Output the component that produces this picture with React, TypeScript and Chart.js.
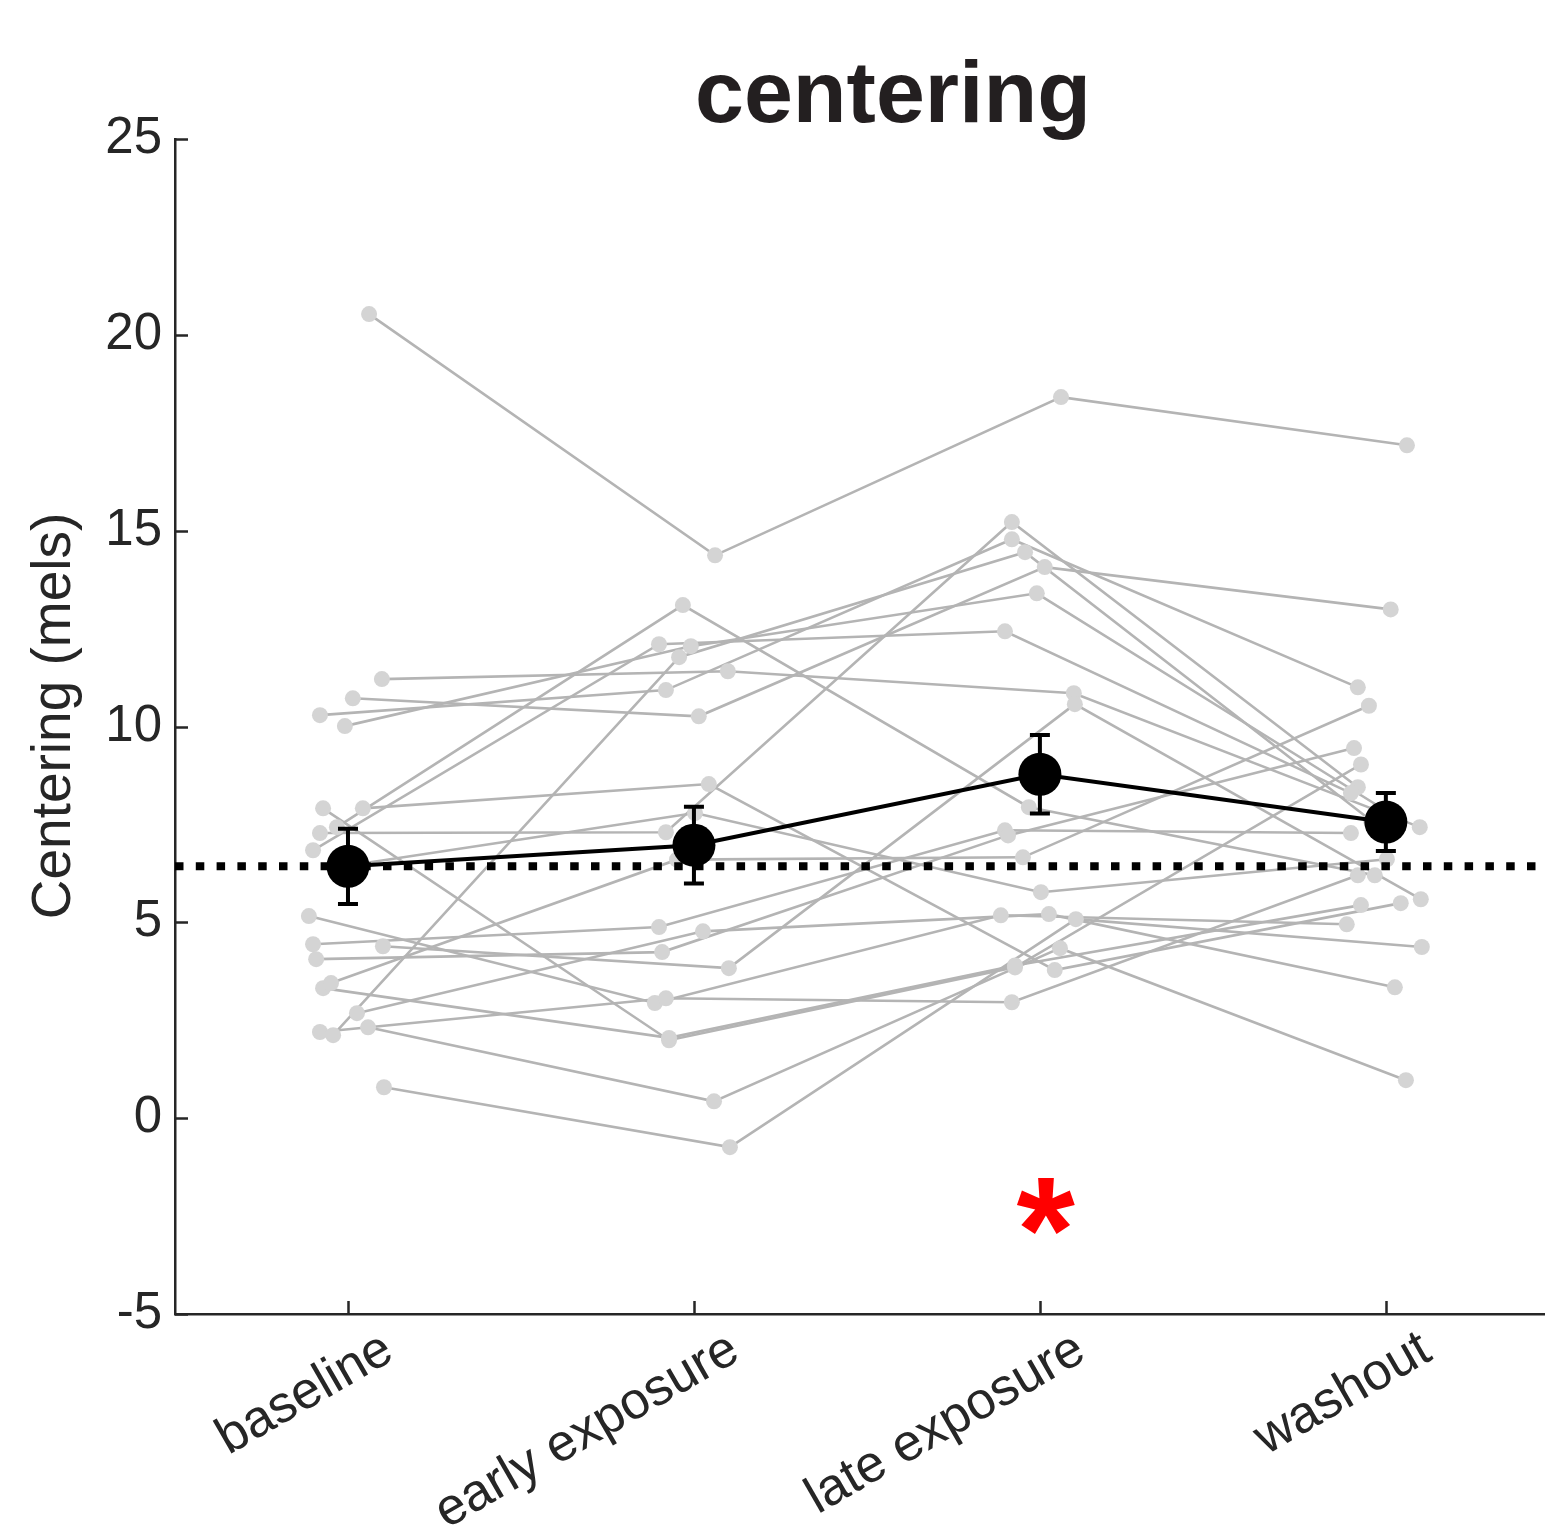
import React, { useEffect, useRef } from "react";
import { Chart, registerables } from "chart.js";

Chart.register(...registerables);

const conditions = ["baseline", "early exposure", "late exposure", "washout"];

// one value per subject (22 subjects), same subject order in every array
const baselineValues = [20.53, 11.21, 10.72, 10.29, 10.01, 7.91, 7.91, 7.43, 7.28, 6.84, 5.16, 4.44, 4.39, 4.06, 3.32, 3.45, 2.68, 2.2, 2.12, 2.32, 0.79, 6.45];
const earlyValues = [14.37, 11.41, 10.26, 10.93, 12.05, 8.53, 1.99, 13.1, 7.3, 12.1, 2.94, 4.88, 3.83, 4.24, 2.05, 6.6, 4.77, 3.06, 11.77, 0.43, -0.74, 7.79];
const lateValues = [18.41, 10.85, 14.07, 14.78, 13.4, 3.78, 3.85, 7.94, 15.22, 12.43, 5.18, 7.35, 10.57, 7.22, 3.9, 6.66, 5.21, 2.96, 14.45, 4.34, 5.08, 5.77];
const washoutValues = [17.18, 7.43, 12.99, 11.0, 7.9, 5.49, 9.03, 6.2, 8.45, 8.3, 4.95, 7.28, 5.59, 9.45, 5.44, 10.53, 3.34, 6.2, 7.6, 0.97, 4.37, 6.61];
// horizontal jitter of each subject (in category units)
const subjectJitter = [0.061, 0.098, 0.014, -0.081, -0.009, 0.043, -0.072, -0.032, -0.081, -0.101, -0.113, -0.101, 0.101, -0.092, -0.072, -0.049, 0.026, -0.081, -0.043, 0.058, 0.104, 0.003];

const groupMean = [6.43, 6.97, 8.78, 7.56];
const groupSem = [0.96, 0.98, 1.0, 0.74];
const baselineReference = 6.43;
const yTickValues = [-5, 0, 5, 10, 15, 20, 25];
const significantCondition = "late exposure";
const significanceY = -2.25;

const FONT = "Liberation Sans";
const TEXT = "#262626";

export default function App() {
  const ref = useRef<HTMLCanvasElement | null>(null);

  useEffect(() => {
    const canvas = ref.current;
    if (!canvas) return;
    const series = [baselineValues, earlyValues, lateValues, washoutValues];

    const subjectLines = baselineValues.map((_, s) => ({
      type: "line" as const,
      data: series.map((vals, c) => ({ x: c + 1 + subjectJitter[s], y: vals[s] })),
      borderColor: "#b4b4b4",
      borderWidth: 2.6,
      pointRadius: 0,
      tension: 0,
      order: 10,
      clip: false as any,
    }));

    const allPoints: { x: number; y: number }[] = [];
    series.forEach((vals, c) =>
      vals.forEach((v, s) => allPoints.push({ x: c + 1 + subjectJitter[s], y: v }))
    );

    const xMin = 0.5;
    const xMax = 4.46;

    const overlay = {
      id: "overlay",
      afterDatasetsDraw(chart: any) {
        const ctx = chart.ctx;
        const xs = chart.scales.x;
        const ys = chart.scales.y;
        ctx.save();
        ctx.strokeStyle = "#000";
        ctx.lineWidth = 4;
        groupMean.forEach((m, i) => {
          const px = xs.getPixelForValue(i + 1);
          const top = ys.getPixelForValue(m + groupSem[i]);
          const bot = ys.getPixelForValue(m - groupSem[i]);
          ctx.beginPath();
          ctx.moveTo(px, top);
          ctx.lineTo(px, bot);
          ctx.moveTo(px - 10, top);
          ctx.lineTo(px + 10, top);
          ctx.moveTo(px - 10, bot);
          ctx.lineTo(px + 10, bot);
          ctx.stroke();
        });
        ctx.restore();
      },
      afterDraw(chart: any) {
        const ctx = chart.ctx;
        const xs = chart.scales.x;
        const ys = chart.scales.y;
        const area = chart.chartArea;
        ctx.save();
        // inward tick marks
        ctx.strokeStyle = TEXT;
        ctx.lineWidth = 2.5;
        ctx.beginPath();
        yTickValues.forEach((v) => {
          const py = Math.round(ys.getPixelForValue(v)) + 0.5;
          ctx.moveTo(area.left, py);
          ctx.lineTo(area.left + 13, py);
        });
        conditions.forEach((_, i) => {
          const px = Math.round(xs.getPixelForValue(i + 1)) + 0.5;
          ctx.moveTo(px, area.bottom);
          ctx.lineTo(px, area.bottom - 13);
        });
        ctx.stroke();

        // rotated category labels
        ctx.fillStyle = TEXT;
        ctx.font = `52px "${FONT}"`;
        ctx.textAlign = "right";
        ctx.textBaseline = "middle";
        conditions.forEach((label, i) => {
          const px = xs.getPixelForValue(i + 1);
          ctx.save();
          ctx.translate(px + 41, area.bottom + 32);
          ctx.rotate(-Math.PI / 6);
          ctx.fillText(label, 0, 0);
          ctx.restore();
        });

        // y axis title
        ctx.save();
        ctx.font = `55px "${FONT}"`;
        ctx.textAlign = "center";
        ctx.textBaseline = "middle";
        ctx.translate(55, 716);
        ctx.rotate(-Math.PI / 2);
        ctx.fillText("Centering (mels)", 0, 0);
        ctx.restore();

        // title
        ctx.font = `bold 88px "${FONT}"`;
        ctx.textAlign = "center";
        ctx.textBaseline = "alphabetic";
        ctx.fillStyle = "#231f20";
        ctx.fillText("centering", 893, 122);

        // significance asterisk
        const ci = conditions.indexOf(significantCondition);
        const cx = xs.getPixelForValue(ci + 1) + 6;
        const cy = ys.getPixelForValue(significanceY);
        ctx.font = `bold 150px "${FONT}"`;
        ctx.textAlign = "left";
        ctx.fillStyle = "#ff0000";
        const m = ctx.measureText("*");
        const w = m.actualBoundingBoxRight - m.actualBoundingBoxLeft;
        const tx = cx - w / 2 + m.actualBoundingBoxLeft;
        const ty = cy + (m.actualBoundingBoxAscent - m.actualBoundingBoxDescent) / 2;
        ctx.fillText("*", tx, ty);
        ctx.restore();
      },
    };

    const chart = new Chart(canvas, {
      type: "line",
      data: {
        datasets: [
          ...subjectLines,
          {
            type: "scatter" as const,
            data: allPoints,
            backgroundColor: "#d4d4d4",
            borderWidth: 0,
            pointRadius: 8,
            pointBorderWidth: 0,
            order: 5,
            clip: false as any,
          },
          {
            type: "line" as const,
            data: [
              { x: xMin, y: baselineReference },
              { x: xMax, y: baselineReference },
            ],
            borderColor: "#000",
            borderWidth: 8,
            borderDash: [8.5, 12.3],
            borderCapStyle: "butt",
            pointRadius: 0,
            order: 3,
          },
          {
            type: "line" as const,
            data: groupMean.map((m, i) => ({ x: i + 1, y: m })),
            borderColor: "#000",
            borderWidth: 4,
            pointRadius: 21.5,
            pointBackgroundColor: "#000",
            pointBorderWidth: 0,
            tension: 0,
            order: 1,
            clip: false as any,
          },
        ] as any,
      },
      options: {
        responsive: false,
        animation: false,
        devicePixelRatio: 1,
        events: [],
        layout: { autoPadding: false, padding: { top: 139, left: 0, right: 0, bottom: 0 } },
        plugins: {
          legend: { display: false },
          tooltip: { enabled: false },
          title: { display: false },
        },
        scales: {
          x: {
            type: "linear",
            min: xMin,
            max: xMax,
            afterBuildTicks: (s: any) => {
              s.ticks = conditions.map((_, i) => ({ value: i + 1 }));
            },
            ticks: { display: false },
            grid: { display: false, drawTicks: false },
            border: { display: true, color: TEXT, width: 2.5 },
            afterFit: (s: any) => {
              s.height = 212;
            },
          },
          y: {
            type: "linear",
            min: -5,
            max: 25,
            afterBuildTicks: (s: any) => {
              s.ticks = yTickValues.map((v) => ({ value: v }));
            },
            ticks: {
              font: { family: FONT, size: 51 },
              color: TEXT,
              padding: 13,
            },
            grid: { display: false, drawTicks: false },
            border: { display: true, color: TEXT, width: 2.5 },
            afterFit: (s: any) => {
              s.width = 175;
            },
          },
        },
      } as any,
      plugins: [overlay],
    });

    return () => chart.destroy();
  }, []);

  return (
    <div
      style={{
        position: "fixed",
        left: 0,
        top: 0,
        width: 1545,
        height: 1526,
        overflow: "hidden",
        background: "#fff",
      }}
    >
      <canvas ref={ref} width={1545} height={1526} style={{ display: "block" }} />
    </div>
  );
}
